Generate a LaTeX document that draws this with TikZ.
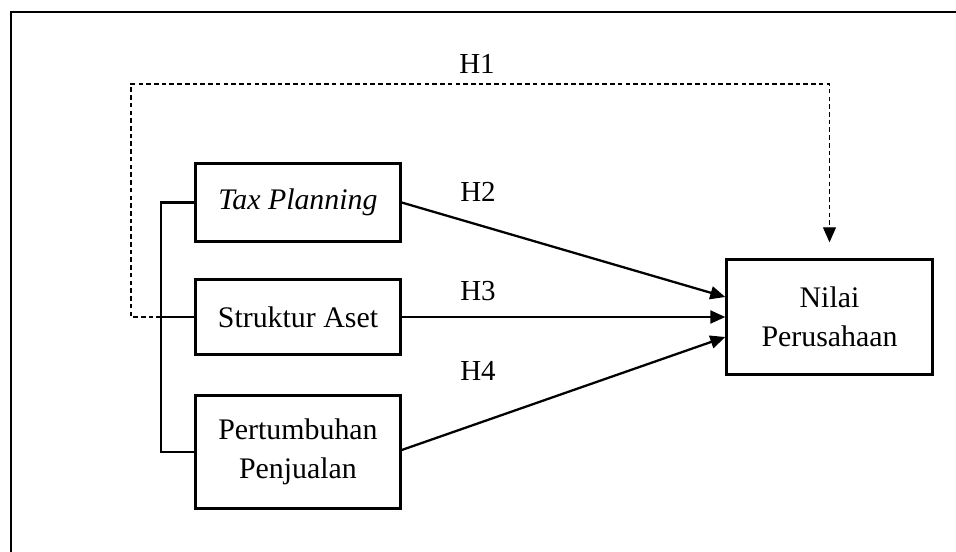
\documentclass[tikz,border=0pt]{standalone}
\usepackage{fontspec}
\setmainfont{Liberation Serif}
\usepackage{xcolor}
\usepackage{tikz}
\usetikzlibrary{arrows.meta}

\tikzset{
    box/.style={draw, line width=1.4pt, align=center, inner sep=0pt,
        minimum width=4.1cm, font=\fontsize{17}{22.5}\selectfont},
    hlab/.style={font=\fontsize{16.5}{19}\selectfont, inner sep=0pt},
    garis/.style={line width=1.3pt, -{Triangle[length=0.3cm,width=0.26cm]}},
}

\begin{document}
\begin{tikzpicture}[x=0.02cm,y=-0.02cm]
    \useasboundingbox (0,0) rectangle (956,551);
    \draw[line width=1.5pt] (11,570)--(11,12)--(970,12);
    %外框(frame),右侧与下方超出画面
    \node[box, minimum height=1.56cm] (tax) at (298,202.5) {\textit{Tax Planning}};
    \node[box, minimum height=1.5cm] (aset) at (298,317) {Struktur Aset};
    \node[box, minimum height=2.26cm] (jual) at (298,452) {Pertumbuhan\\Penjualan};
    \node[box, minimum width=4.12cm, minimum height=2.3cm] (nilai) at (829.5,317) {Nilai\\Perusahaan};
    %四个方框(box),文字居中(align=center)
    \coordinate (kurung) at (161,0);
    \coordinate (luar) at (131,84);
    \draw[line width=1.4pt] (tax.west)--(tax.west -| kurung)--(jual.west -| kurung)--(jual.west);
    \draw[line width=1.4pt] (aset.west)--(aset.west -| kurung);
    %左侧括线(kurung),连接三个自变量
    \draw[line width=0.7pt, dash pattern=on 2.6pt off 1.8pt, -{Triangle[length=0.3cm,width=0.26cm]}]
        (aset.west -| kurung)--(aset.west -| luar)--(luar)--(luar -| nilai.north)--([yshift=0.32cm]nilai.north);
    %虚线(dashed)H1,从括线绕到上方再向下(arrow)到Nilai
    \draw[garis] (tax.east)--([yshift=0.4cm]nilai.west);
    \draw[garis] (aset.east)--(nilai.west);
    \draw[garis] ([yshift=0.04cm]jual.east)--([yshift=-0.4cm]nilai.west);
    %实线箭头(->) H2,H3,H4
    \node[hlab] (h1) at (477,64) {H1};
    \node[hlab] (h2) at (478,192) {H2};
    \node[hlab] (h3) at (478,291) {H3};
    \node[hlab] (h4) at (478,371) {H4};
    %假设标签(label)
\end{tikzpicture}
\end{document}
